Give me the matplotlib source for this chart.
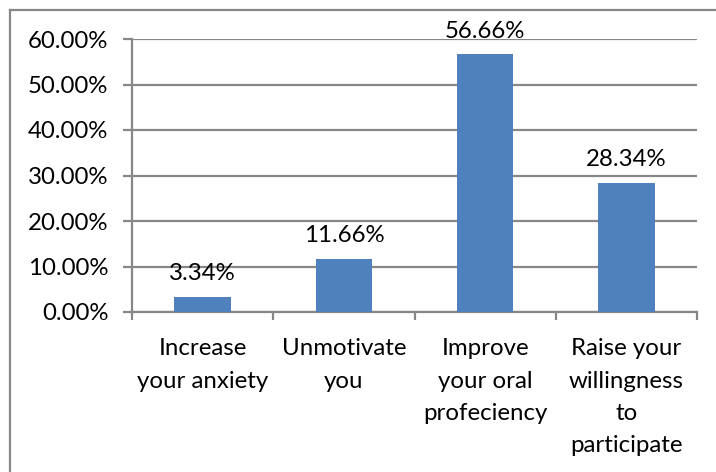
import matplotlib
matplotlib.use("Agg")
import matplotlib.pyplot as plt
from matplotlib.lines import Line2D
from matplotlib.ticker import FixedLocator

categories = ["Increase\nyour anxiety", "Unmotivate\nyou", "Improve\nyour oral\nprofeciency",
              "Raise your\nwillingness\nto\nparticipate"]
values = [3.34, 11.66, 56.66, 28.34]
y_ticks = [0, 10, 20, 30, 40, 50, 60]
y_tick_labels = ["0.00%", "10.00%", "20.00%", "30.00%", "40.00%", "50.00%", "60.00%"]

plt.rcParams["font.family"] = ["Lato", "DejaVu Sans"]
grey = "#878787"
bar_color = "#4F81BD"
fs = 17.3

fig = plt.figure(figsize=(7.16, 4.72), dpi=100)
ax = fig.add_axes([132 / 716, 1 - 312 / 472, (697 - 132) / 716, (312 - 39) / 472])

x = list(range(len(values)))
ax.bar(x, values, width=0.40, color=bar_color, zorder=3)

ax.set_xlim(-0.5, len(values) - 0.5)
ax.set_ylim(0, 60)
ax.set_yticks(y_ticks)
ax.set_yticklabels(y_tick_labels, fontsize=fs)
ax.yaxis.grid(True, color=grey, linewidth=1.6, zorder=0)
ax.set_axisbelow(True)

ax.set_xticks(x)
ax.set_xticklabels(categories, fontsize=fs, linespacing=1.66, va="top")
ax.xaxis.set_minor_locator(FixedLocator([i - 0.5 for i in range(len(values) + 1)]))
ax.tick_params(axis="x", which="major", length=0, pad=19)
ax.tick_params(axis="x", which="minor", length=6, width=1.6, color=grey, direction="out")
ax.tick_params(axis="y", length=6.5, width=1.6, color=grey, pad=10.5)

for s in ("top", "right"):
    ax.spines[s].set_visible(False)
for s in ("left", "bottom"):
    ax.spines[s].set_color(grey)
    ax.spines[s].set_linewidth(1.6)

for xi, v in zip(x, values):
    ax.annotate(f"{v:.2f}%", (xi, v), xytext=(0, 12), textcoords="offset points",
                ha="center", va="baseline", fontsize=fs, zorder=4)

# outer frame (top and left edges)
fig.add_artist(Line2D([10 / 716, 1.0], [1 - 9.5 / 472, 1 - 9.5 / 472],
                      transform=fig.transFigure, color=grey, linewidth=1.6))
fig.add_artist(Line2D([10 / 716, 10 / 716], [0, 1 - 9.5 / 472],
                      transform=fig.transFigure, color=grey, linewidth=1.6))

fig.savefig("out.png", dpi=100)
